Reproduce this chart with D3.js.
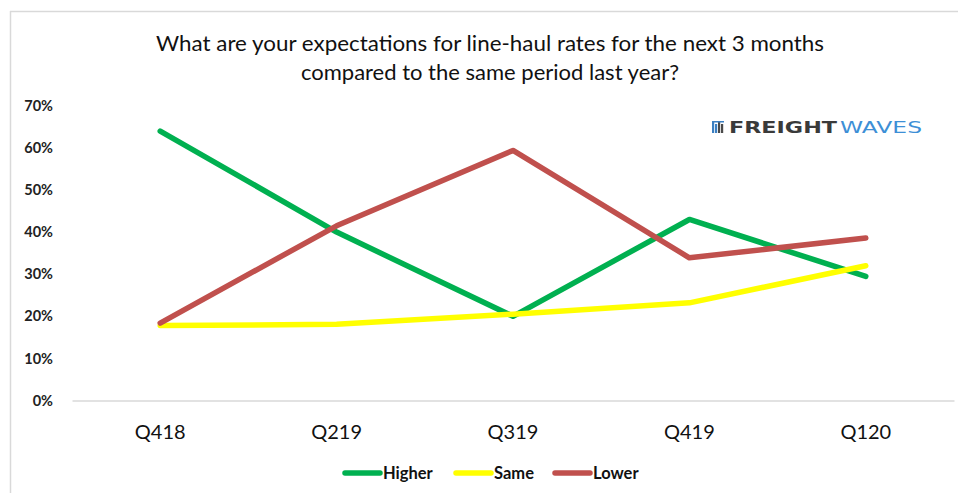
<!DOCTYPE html>
<html>
<head>
<meta charset="utf-8">
<script src="https://cdn.jsdelivr.net/npm/d3@7"></script>
<style>
  html, body { margin: 0; padding: 0; background: #fff; }
  svg { display: block; }
</style>
</head>
<body>
<svg id="chart" width="958" height="493"></svg>
<script>
// Survey quarters and share of respondents per expectation
const quarters = ["Q418", "Q219", "Q319", "Q419", "Q120"];
const higher = [0.64, 0.40, 0.20, 0.43, 0.295];
const same   = [0.178, 0.181, 0.205, 0.232, 0.32];
const lower  = [0.184, 0.415, 0.594, 0.339, 0.386];
const yTicks = [0, 0.1, 0.2, 0.3, 0.4, 0.5, 0.6, 0.7];

const seriesList = [
  { name: "Higher", values: higher, color: "#00b050" },
  { name: "Same",   values: same,   color: "#ffff00" },
  { name: "Lower",  values: lower,  color: "#c0504d" }
];

const svg = d3.select("#chart");
const font = "Lato, 'Open Sans', sans-serif";

// outer frame (only the top and left edges show)
svg.append("line").attr("x1", 10).attr("x2", 958).attr("y1", 11.5).attr("y2", 11.5)
  .attr("stroke", "#d9d9d9").attr("stroke-width", 1.5);
svg.append("line").attr("x1", 10.5).attr("x2", 10.5).attr("y1", 11).attr("y2", 493)
  .attr("stroke", "#d9d9d9").attr("stroke-width", 1.5);

// title
const title = svg.append("text").attr("x", 490).attr("y", 51)
  .attr("text-anchor", "middle").attr("font-family", font)
  .attr("font-size", 22).attr("fill", "#111");
title.append("tspan").attr("x", 490).attr("dy", 0)
  .attr("textLength", 668).attr("lengthAdjust", "spacingAndGlyphs")
  .text("What are your expectations for line-haul rates for the next 3 months");
title.append("tspan").attr("x", 490).attr("dy", 29)
  .text("compared to the same period last year?");

const x = d3.scaleBand().domain(quarters).range([72, 954]);
const y = d3.scaleLinear().domain([0, 0.7]).range([400.5, 105.8]);

// y axis labels
const yAxis = d3.axisLeft(y).tickValues(yTicks).tickFormat(d3.format(".0%")).tickSize(0).tickPadding(0);
const gy = svg.append("g").attr("transform", "translate(53,0)").call(yAxis);
gy.select(".domain").remove();
gy.selectAll("text").attr("font-family", font).attr("font-size", 14.5)
  .attr("font-weight", "bold").attr("fill", "#222");

// x axis baseline and category labels
const xAxis = d3.axisBottom(x).tickSize(0).tickPadding(24);
const gx = svg.append("g").attr("transform", "translate(0,400.5)").call(xAxis);
gx.select(".domain").attr("stroke", "#d9d9d9").attr("stroke-width", 1.5);
gx.selectAll("text").attr("font-family", font).attr("font-size", 20).attr("fill", "#111");

// series lines
const line = d3.line()
  .x((d, i) => x(quarters[i]) + x.bandwidth() / 2)
  .y(d => y(d));

svg.append("g").selectAll("path").data(seriesList).join("path")
  .attr("d", s => line(s.values))
  .attr("fill", "none")
  .attr("stroke", s => s.color)
  .attr("stroke-width", 5.5)
  .attr("stroke-linecap", "round")
  .attr("stroke-linejoin", "round");

// legend
const legendX = [345, 456, 555];
const lg = svg.append("g").selectAll("g").data(seriesList).join("g")
  .attr("transform", (d, i) => `translate(${legendX[i]},473)`);
lg.append("line").attr("x1", 0).attr("x2", 35).attr("y1", 0).attr("y2", 0)
  .attr("stroke", d => d.color).attr("stroke-width", 5.5).attr("stroke-linecap", "round");
lg.append("text").attr("x", 38).attr("y", 5.5).attr("font-family", font)
  .attr("font-size", 16.5).attr("font-weight", "bold").attr("fill", "#111")
  .text(d => d.name);

// brand mark
const logo = svg.append("g").attr("transform", "translate(712,133)");
[0, 3, 6, 9].forEach((o, i) => {
  logo.append("rect").attr("x", o).attr("y", -11 + (i % 2) * 2).attr("width", 2.2)
    .attr("height", 11 - (i % 2) * 2).attr("fill", i < 2 ? "#3b7fc1" : "#4a4a4a");
});
logo.append("rect").attr("x", 0).attr("y", -12).attr("width", 12).attr("height", 1.5).attr("fill", "#3b7fc1");
logo.append("text").attr("x", 17).attr("y", 0)
  .attr("font-family", "'DejaVu Sans', sans-serif").attr("font-size", 16.5)
  .attr("font-weight", "bold").attr("fill", "#3a3a3a")
  .attr("textLength", 108).attr("lengthAdjust", "spacingAndGlyphs")
  .text("FREIGHT");
logo.append("text").attr("x", 128).attr("y", 0)
  .attr("font-family", "'DejaVu Sans', sans-serif").attr("font-size", 16.5)
  .attr("fill", "#3d8fd6")
  .attr("textLength", 82).attr("lengthAdjust", "spacingAndGlyphs")
  .text("WAVES");
</script>
</body>
</html>
